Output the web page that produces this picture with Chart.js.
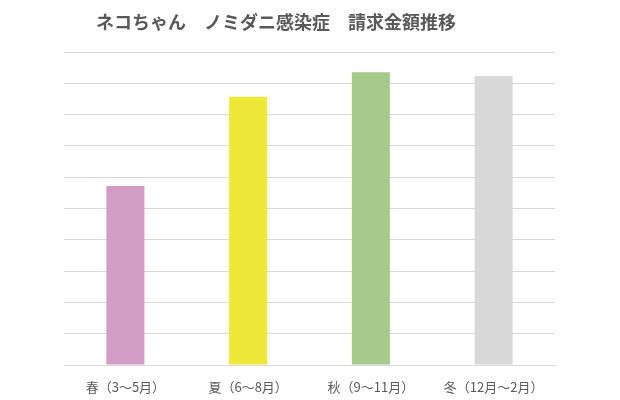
<!DOCTYPE html>
<html><head><meta charset="utf-8">
<script src="https://cdn.jsdelivr.net/npm/chart.js@4/dist/chart.umd.min.js"></script>
<style>html,body{margin:0;padding:0;background:#fff}#wrap{width:620px;height:400px;position:relative}</style>
</head><body><div id="wrap"><canvas id="c"></canvas></div>
<script>
const titleText = 'ネコちゃん　ノミダニ感染症　請求金額推移';
const categories = ['春（3〜5月）', '夏（6〜8月）', '秋（9〜11月）', '冬（12月〜2月）'];
const amounts = [5.72, 8.57, 9.35, 9.23];
const barColors = ['#D29DC5', '#EEE838', '#A6CA8C', '#D8D8D8'];
const FONT = '"Noto Sans CJK JP", "Noto Sans", sans-serif';

const titlePlugin = {
  id: 'customTitle',
  afterDraw(chart) {
    const ctx = chart.ctx;
    ctx.save();
    ctx.font = 'bold 18px ' + FONT;
    ctx.fillStyle = '#595959';
    ctx.textBaseline = 'middle';
    ctx.textAlign = 'left';
    ctx.fillText(titleText, 96, 22);
    ctx.restore();
  }
};

new Chart(document.getElementById('c'), {
  type: 'bar',
  data: {
    labels: categories,
    datasets: [{
      data: amounts,
      backgroundColor: barColors,
      borderWidth: 0,
      categoryPercentage: 1,
      barPercentage: 0.31
    }]
  },
  options: {
    responsive: true,
    maintainAspectRatio: false,
    animation: false,
    layout: { padding: { left: 64, right: 65, top: 52, bottom: 0 } },
    plugins: { legend: { display: false }, title: { display: false }, tooltip: { enabled: false } },
    scales: {
      x: {
        grid: { display: false, drawTicks: false },
        border: { display: true, color: '#D9D9D9', width: 1 },
        ticks: { color: '#595959', font: { family: FONT, size: 13 }, padding: 14, maxRotation: 0 },
        afterFit(s) { s.height = 35; }
      },
      y: {
        min: 0, max: 10,
        grid: { color: '#D9D9D9', lineWidth: 1, drawTicks: false },
        border: { display: false },
        ticks: { display: false, stepSize: 1 },
        afterFit(s) { s.width = 0; }
      }
    }
  },
  plugins: [titlePlugin]
});
</script></body></html>
